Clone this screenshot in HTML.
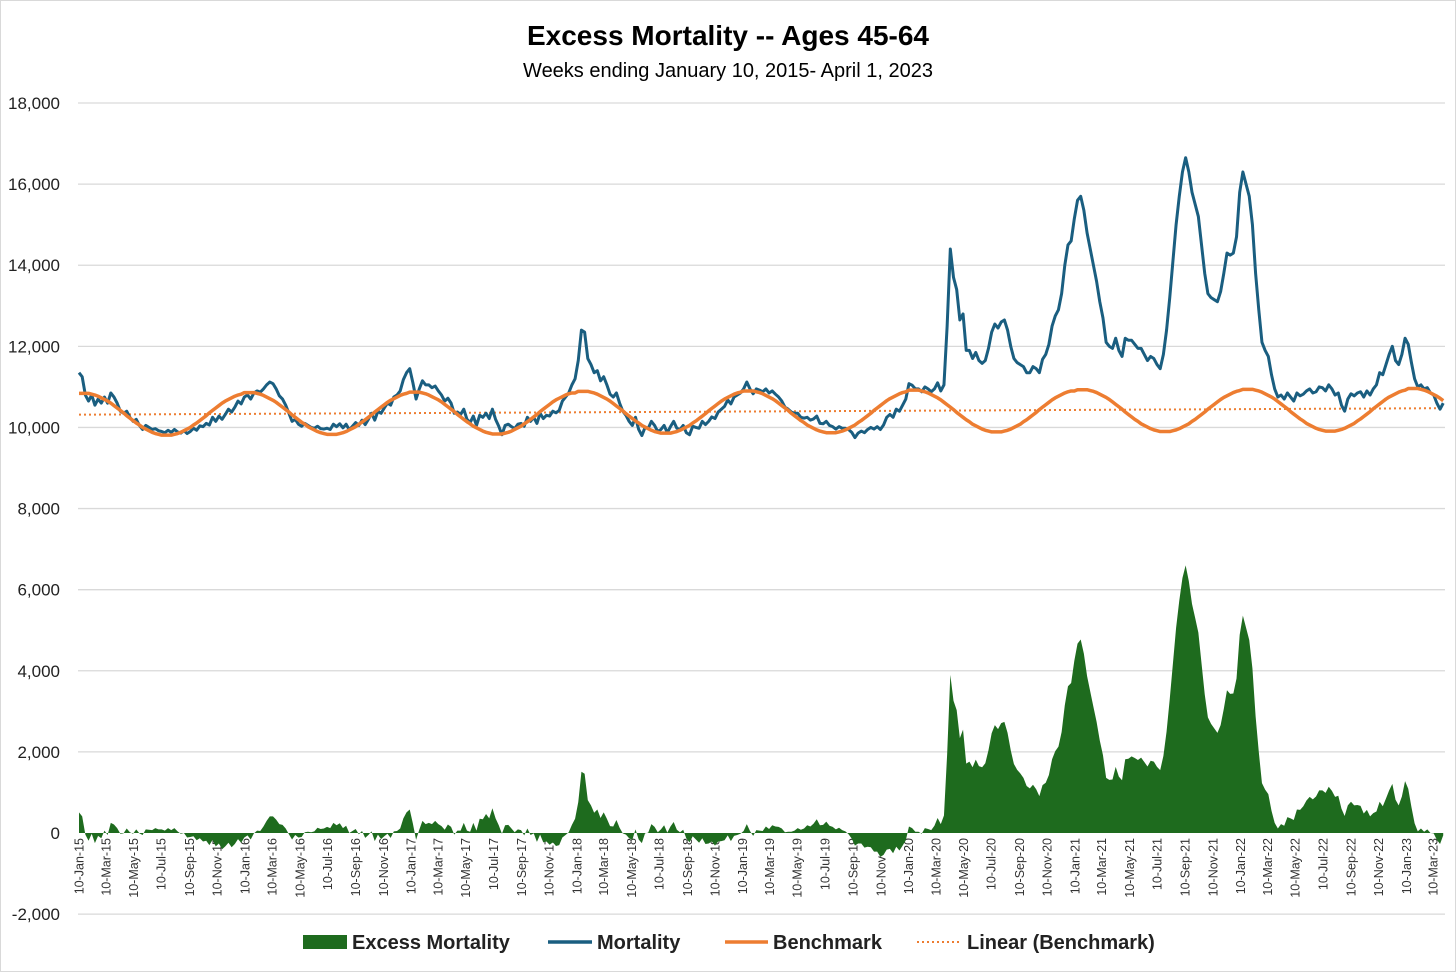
<!DOCTYPE html>
<html><head><meta charset="utf-8">
<style>
html,body{margin:0;padding:0;background:#fff;}
body{width:1456px;height:972px;overflow:hidden;font-family:"Liberation Sans",sans-serif;}
svg text{font-family:"Liberation Sans",sans-serif;}
</style></head>
<body>
<svg id="chart" width="1456" height="972" viewBox="0 0 1456 972" xmlns="http://www.w3.org/2000/svg">
<rect x="0.5" y="0.5" width="1455" height="971" fill="#fff" stroke="#d9d9d9"/>
<text x="728" y="45" text-anchor="middle" font-size="28" font-weight="bold" fill="#000">Excess Mortality -- Ages 45-64</text>
<text x="728" y="77" text-anchor="middle" font-size="20" fill="#000">Weeks ending January 10, 2015- April 1, 2023</text>
<g id="grid"></g>
<g id="yticks"></g>
<g id="xticks"></g>
<g id="series"></g>
<g id="legend">
  <rect x="303" y="935" width="44" height="14" fill="#1e6b1e"/>
  <text x="352" y="949" font-size="20" font-weight="bold" fill="#222">Excess Mortality</text>
  <line x1="548" y1="942" x2="592" y2="942" stroke="#1a5e80" stroke-width="3.5"/>
  <text x="597" y="949" font-size="20" font-weight="bold" fill="#222">Mortality</text>
  <line x1="725" y1="942" x2="768" y2="942" stroke="#ed7d31" stroke-width="3.5"/>
  <text x="773" y="949" font-size="20" font-weight="bold" fill="#222">Benchmark</text>
  <line x1="917" y1="942" x2="960" y2="942" stroke="#ed7d31" stroke-width="2" stroke-dasharray="2,3"/>
  <text x="967" y="949" font-size="20" font-weight="bold" fill="#222">Linear (Benchmark)</text>
</g>
</svg>
<script>
// values in hundreds of deaths, weekly from 10-Jan-2015
const mortality = [
113.5,112.5,108,106.5,108,105.5,107,106,107.5,106,108.5,107.5,106,
104,103.5,104,102.5,101.5,102,100.5,99.5,100.5,100,99.5,99.7,99.2,
99,98.7,99.3,98.8,99.5,98.9,98.6,99.2,98.5,99,99.8,99.3,100.4,
100.2,101,100.6,102.5,101.5,102.8,102,103.2,104.5,103.8,105,106.5,105.8,
107.5,108,107,108.5,109,108.7,109.5,110.5,111.2,110.8,109.5,107.8,107,
105.5,103.5,101.5,102,100.8,100.3,101,100.5,100,99.8,100.3,99.7,99.6,
99.8,99.5,100.8,100.2,100.9,99.9,100.8,99.4,100.3,101.2,100.5,101.8,100.7,
102,103.5,101.8,104,103.5,104.8,106,105.5,107.5,108,109,111.8,113.5,
114.5,111,107,109.5,111.5,110.5,110.5,109.8,110.2,109,108,106.5,107.2,
106,103.5,103.8,103.2,104.5,102,101.2,102.8,100.5,103,102.5,103.5,102.2,
104.5,102,100.3,98.2,100.5,100.8,100.2,99.7,100.8,101,100.3,102.5,101.5,
102.5,101,103.5,102.2,103,102.8,104,103.6,104.2,106.5,107.5,108.5,110.5,
112,116.5,124,123.5,117,115.5,113.5,114,111.5,112.5,110.5,108.2,107.5,
108.5,106,104,103,101.5,100.5,102.5,99.5,98,100,99.8,101.5,100.5,
99,99.5,100.5,98.7,100.2,101.5,99.8,99.5,100.5,98.7,98.2,100.3,100,
99.8,101.5,100.7,101.5,102.6,102.2,103.8,104.5,105.2,106.8,105.8,107.5,108,
108.5,109.5,111.2,109.5,108.3,109.5,109.2,108.8,109.5,108.5,109,108.2,107.5,
106.5,105,104.5,103.8,103.5,103.5,102.5,102.3,102.5,101.8,102.1,102.8,101,
100.9,101.5,100.5,100.2,99.6,100.2,99.8,99.8,99.5,98.8,97.5,98.6,99.1,
98.7,99.5,100,99.6,100.2,99.5,100.6,102.5,103.2,102.5,104.5,104,105.5,
107,110.8,110.4,109.5,109.5,108.8,110,109.5,108.8,109.5,111,109,110.5,
125,144,137,134,126.5,128,119,119,117,118.5,116.5,115.8,116.5,
119.5,123.5,125.5,124.5,126,126.5,124,120,117,116,115.5,115,113.5,
113.5,115,114.5,113.5,116.8,118,120.5,125,127.5,129,133,140,145,
146,151.5,156,157,153.5,148,144,140,136,131,127,121,120,
119.5,122,119,117.5,122,121.5,121.5,120.5,119.5,119.5,118,116.5,117.5,
117,115.5,114.5,118,124,132,141,150,157,163,166.5,163,158,
155,152,145,138,133,132,131.5,131,133.5,138,143,142.5,143,
147,158,163,160,157,150,138,129,121,119,117.5,113,109.5,
107.5,108,107,108.5,107.5,106.5,108.5,107.8,108.2,109,109.5,108.5,108.8,
110,109.8,109,110.5,109.5,108,108.5,105.5,104,107,108.3,107.8,108.5,
108.8,107.5,109,108,109.5,110.5,113.5,113,115.5,118,120,116.5,115.5,
118,122,120.5,116,112,110,110.5,109.5,109.8,108.5,108,106,104.5,106
];
const benchmark = [
108.4,108.4,108.4,108.4,108.2,108.0,107.7,107.3,106.9,106.5,106.0,105.4,104.8,104.2,103.6,102.9,102.3,101.7,101.1,100.6,100.0,99.6,99.2,98.8,98.5,98.3,98.1,98.1,98.1,98.1,98.3,98.5,98.8,99.2,99.6,100.0,100.6,101.1,101.7,102.3,102.9,103.6,104.2,104.8,105.4,106.0,106.5,106.9,107.3,107.7,108.0,108.2,
108.6,108.6,108.6,108.6,108.4,108.2,107.9,107.5,107.1,106.7,106.2,105.6,105.0,104.4,103.8,103.1,102.5,101.9,101.3,100.8,100.2,99.8,99.4,99.0,98.7,98.5,98.3,98.3,98.3,98.3,98.5,98.7,99.0,99.4,99.8,100.2,100.8,101.3,101.9,102.5,103.1,103.8,104.4,105.0,105.6,106.2,106.7,107.1,107.5,107.9,108.2,108.4,
108.7,108.7,108.7,108.7,108.5,108.3,108.0,107.6,107.2,106.8,106.3,105.7,105.1,104.5,103.9,103.2,102.6,102.0,101.4,100.9,100.3,99.9,99.5,99.1,98.8,98.6,98.4,98.4,98.4,98.4,98.6,98.8,99.1,99.5,99.9,100.3,100.9,101.4,102.0,102.6,103.2,103.9,104.5,105.1,105.7,106.3,106.8,107.2,107.6,108.0,108.3,108.5,
108.5,
108.9,108.9,108.9,108.9,108.7,108.5,108.2,107.8,107.4,107.0,106.5,105.9,105.3,104.7,104.1,103.4,102.8,102.2,101.6,101.1,100.5,100.1,99.7,99.3,99.0,98.8,98.6,98.6,98.6,98.6,98.8,99.0,99.3,99.7,100.1,100.5,101.1,101.6,102.2,102.8,103.4,104.1,104.7,105.3,105.9,106.5,107.0,107.4,107.8,108.2,108.5,108.7,
109.0,109.0,109.0,109.0,108.8,108.6,108.3,107.9,107.5,107.1,106.6,106.0,105.4,104.8,104.2,103.5,102.9,102.3,101.7,101.2,100.6,100.2,99.8,99.4,99.1,98.9,98.7,98.7,98.7,98.7,98.9,99.1,99.4,99.8,100.2,100.6,101.2,101.7,102.3,102.9,103.5,104.2,104.8,105.4,106.0,106.6,107.1,107.5,107.9,108.3,108.6,108.8,
109.2,109.2,109.2,109.2,109.0,108.8,108.5,108.1,107.7,107.3,106.8,106.2,105.6,105.0,104.4,103.7,103.1,102.5,101.9,101.4,100.8,100.4,100.0,99.6,99.3,99.1,98.9,98.9,98.9,98.9,99.1,99.3,99.6,100.0,100.4,100.8,101.4,101.9,102.5,103.1,103.7,104.4,105.0,105.6,106.2,106.8,107.3,107.7,108.1,108.5,108.8,109.0,
109.0,
109.3,109.3,109.3,109.3,109.1,108.9,108.6,108.2,107.8,107.4,106.9,106.3,105.7,105.1,104.5,103.8,103.2,102.6,102.0,101.5,100.9,100.5,100.1,99.7,99.4,99.2,99.0,99.0,99.0,99.0,99.2,99.4,99.7,100.1,100.5,100.9,101.5,102.0,102.6,103.2,103.8,104.5,105.1,105.7,106.3,106.9,107.4,107.8,108.2,108.6,108.9,109.1,
109.4,109.4,109.4,109.4,109.2,109.0,108.7,108.3,107.9,107.5,107.0,106.4,105.8,105.2,104.6,103.9,103.3,102.7,102.1,101.6,101.0,100.6,100.2,99.8,99.5,99.3,99.1,99.1,99.1,99.1,99.3,99.5,99.8,100.2,100.6,101.0,101.6,102.1,102.7,103.3,103.9,104.6,105.2,105.8,106.4,107.0,107.5,107.9,108.3,108.7,109.0,109.2,
109.6,109.6,109.6,109.6,109.4,109.2,108.9,108.5,108.1,107.7,107.2,106.6
];
const yTicks = [-2000,0,2000,4000,6000,8000,10000,12000,14000,16000,18000];
const xTickLabels = ["10-Jan-15","10-Mar-15","10-May-15","10-Jul-15","10-Sep-15","10-Nov-15","10-Jan-16","10-Mar-16","10-May-16","10-Jul-16","10-Sep-16","10-Nov-16","10-Jan-17","10-Mar-17","10-May-17","10-Jul-17","10-Sep-17","10-Nov-17","10-Jan-18","10-Mar-18","10-May-18","10-Jul-18","10-Sep-18","10-Nov-18","10-Jan-19","10-Mar-19","10-May-19","10-Jul-19","10-Sep-19","10-Nov-19","10-Jan-20","10-Mar-20","10-May-20","10-Jul-20","10-Sep-20","10-Nov-20","10-Jan-21","10-Mar-21","10-May-21","10-Jul-21","10-Sep-21","10-Nov-21","10-Jan-22","10-Mar-22","10-May-22","10-Jul-22","10-Sep-22","10-Nov-22","10-Jan-23","10-Mar-23"];

const NS="http://www.w3.org/2000/svg";
const X0=79, WEEK=3.18, PL=78, PR=1445;
const yScale=v=>833-(v/2000)*81.11;
const xScale=i=>X0+i*WEEK;
const t0=Date.UTC(2015,0,10);
const xDate=(lbl)=>{const m={Jan:0,Mar:2,May:4,Jul:6,Sep:8,Nov:10};const p=lbl.split('-');return X0+((Date.UTC(2000+ +p[2],m[p[1]],10)-t0)/864e5/7)*WEEK;};
function mk(tag,attrs,parent){const e=document.createElementNS(NS,tag);for(const k in attrs)e.setAttribute(k,attrs[k]);parent.appendChild(e);return e;}

const grid=document.getElementById('grid'), yt=document.getElementById('yticks'), xt=document.getElementById('xticks'), ser=document.getElementById('series');
yTicks.forEach(v=>{
  const y=yScale(v);
  if(v!==0){const l=mk('line',{x1:PL,x2:PR,y1:y,y2:y,stroke:'#d9d9d9','stroke-width':1.3},grid);
  
  }
  const t=mk('text',{x:60,y:y+6,'text-anchor':'end','font-size':17,fill:'#222'},yt);
  t.textContent=v.toLocaleString('en-US');
  
  
});
xTickLabels.forEach(s=>{
  const x=xDate(s);
  const t=mk('text',{x:0,y:0,'text-anchor':'end','font-size':12.5,fill:'#333',transform:`translate(${x+4.5},838) rotate(-90)`},xt);
  t.textContent=s;
  
  
});
// excess area
const excess=mortality.map((m,i)=>(m-benchmark[i])*100);
let d=`M${xScale(0)},${yScale(0)}`;
excess.forEach((v,i)=>{d+=` L${xScale(i).toFixed(2)},${yScale(v).toFixed(2)}`;});
d+=` L${xScale(excess.length-1)},${yScale(0)} Z`;
const area=mk('path',{d:d,fill:'#1e6b1e',stroke:'none'},ser);


// linear trend of benchmark
const n=benchmark.length;let sx=0,sy=0,sxx=0,sxy=0;
benchmark.forEach((v,i)=>{sx+=i;sy+=v;sxx+=i*i;sxy+=i*v;});
const b=(n*sxy-sx*sy)/(n*sxx-sx*sx), a=(sy-b*sx)/n;
const lin=mk('line',{x1:xScale(0),y1:yScale(a*100),x2:xScale(n-1),y2:yScale((a+b*(n-1))*100),stroke:'#ed7d31','stroke-width':2,'stroke-dasharray':'2,3'},ser);


const bl=mk('polyline',{points:benchmark.map((v,i)=>xScale(i).toFixed(2)+','+yScale(v*100).toFixed(2)).join(' '),fill:'none',stroke:'#ed7d31','stroke-width':3.5,'stroke-linejoin':'round'},ser);


const ml=mk('polyline',{points:mortality.map((v,i)=>xScale(i).toFixed(2)+','+yScale(v*100).toFixed(2)).join(' '),fill:'none',stroke:'#1a5e80','stroke-width':3,'stroke-linejoin':'round'},ser);


// re-draw benchmark over mortality? Excel order: mortality above area, benchmark on top
ser.appendChild(bl);
</script>
</body></html>
